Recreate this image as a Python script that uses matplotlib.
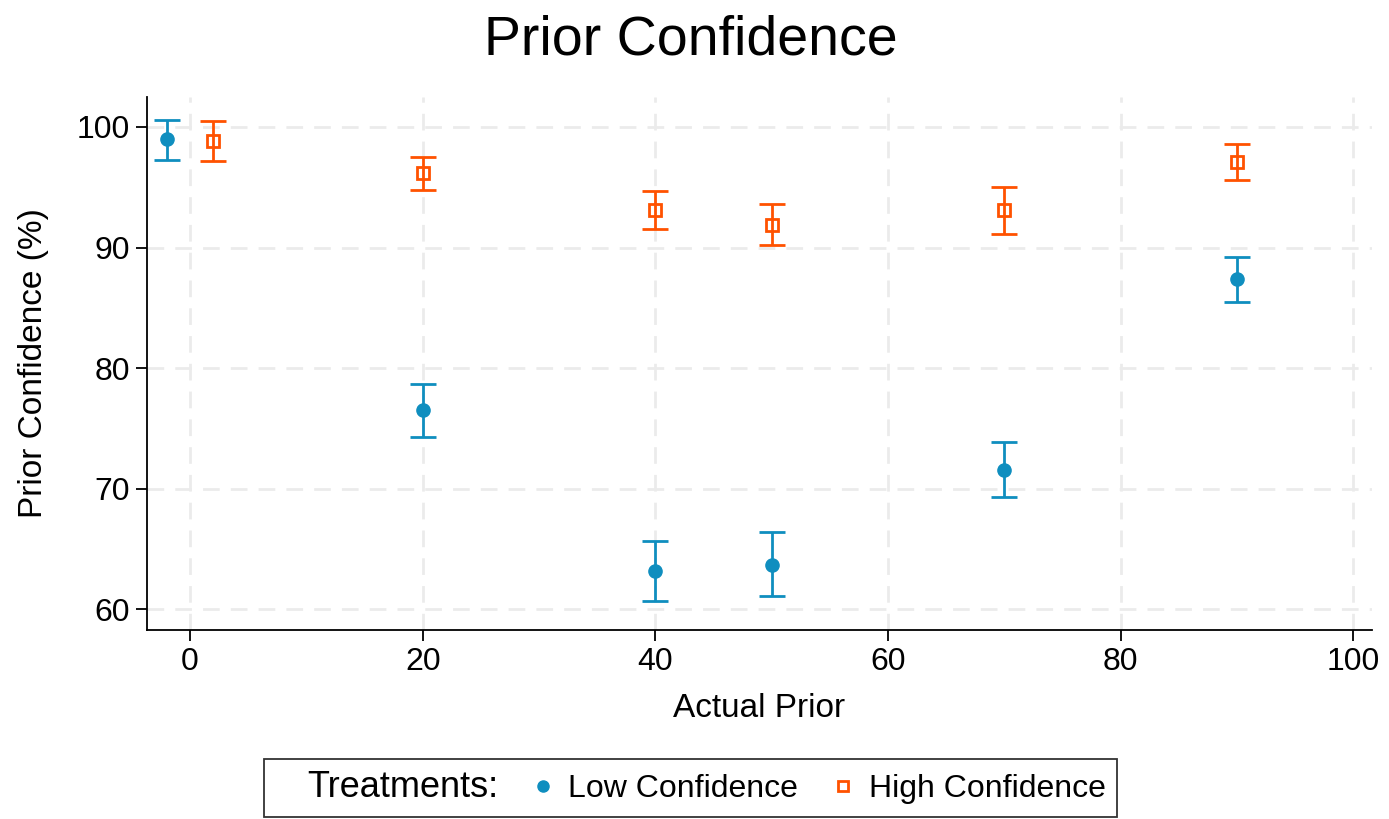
import numpy as np
import matplotlib.pyplot as plt
from matplotlib.lines import Line2D

plt.rcParams['font.family'] = ['Liberation Sans', 'DejaVu Sans']

# Data
prior = np.array([0, 20, 40, 50, 70, 90])
offset = 2  # horizontal dodge at prior 0, as in the reference

low_mean = np.array([99.0, 76.5, 63.2, 63.7, 71.6, 87.4])
low_lo = np.array([97.3, 74.3, 60.7, 61.1, 69.3, 85.5])
low_hi = np.array([100.6, 78.7, 65.7, 66.4, 73.9, 89.2])

high_mean = np.array([98.8, 96.2, 93.1, 91.9, 93.1, 97.1])
high_lo = np.array([97.2, 94.8, 91.5, 90.2, 91.1, 95.6])
high_hi = np.array([100.5, 97.5, 94.7, 93.6, 95.0, 98.6])

blue = '#0f8ebf'
orange = '#ff5200'

fig = plt.figure(figsize=(13.89, 8.19), dpi=100)
ax = fig.add_axes([0.1058, 0.2308, 0.882, 0.651])

x_low = prior.astype(float)
x_low[0] -= offset
x_high = prior.astype(float)
x_high[0] += offset

ax.errorbar(x_low, low_mean, yerr=[low_mean - low_lo, low_hi - low_mean],
            fmt='o', color=blue, ms=9.5, capsize=9.5, elinewidth=2, capthick=2,
            zorder=3)
ax.errorbar(x_high, high_mean, yerr=[high_mean - high_lo, high_hi - high_mean],
            fmt='s', color=orange, mfc='none', mec=orange, mew=2, ms=8.5,
            capsize=9.5, elinewidth=2, capthick=2, zorder=3)

ax.set_xlim(-3.7, 101.6)
ax.set_ylim(58.3, 102.5)
ax.set_xticks([0, 20, 40, 60, 80, 100])
ax.set_yticks([60, 70, 80, 90, 100])
ax.grid(True, color='#ebebeb', linestyle=(0, (6, 4)), linewidth=2)
ax.set_axisbelow(True)
for s in ['top', 'right']:
    ax.spines[s].set_visible(False)
ax.spines['left'].set_linewidth(1.3)
ax.spines['bottom'].set_linewidth(1.3)
ax.tick_params(labelsize=23, width=1.3, length=8, pad=4)

fig.text(0.497, 0.951, 'Prior Confidence', fontsize=40, ha='center', va='center')
ax.set_xlabel('Actual Prior', fontsize=24, labelpad=12)
ax.set_ylabel('Prior Confidence (%)', fontsize=24, labelpad=20)

handles = [Line2D([], [], linestyle='none'),
           Line2D([], [], linestyle='none', marker='o', color=blue, ms=8),
           Line2D([], [], linestyle='none', marker='s', mfc='none', mec=orange, mew=2, ms=7)]
labels = ['Treatments:', 'Low Confidence', 'High Confidence']
leg = fig.legend(handles, labels, loc='center', bbox_to_anchor=(0.497, 0.038),
                 ncol=3, fontsize=23, frameon=True, fancybox=False,
                 edgecolor='black', handlelength=0.4, handletextpad=0.6,
                 columnspacing=1.2, borderpad=0.35)
leg.get_frame().set_linewidth(1.3)
leg.get_texts()[0].set_fontsize(26)

fig.savefig('out.png', dpi=100)
